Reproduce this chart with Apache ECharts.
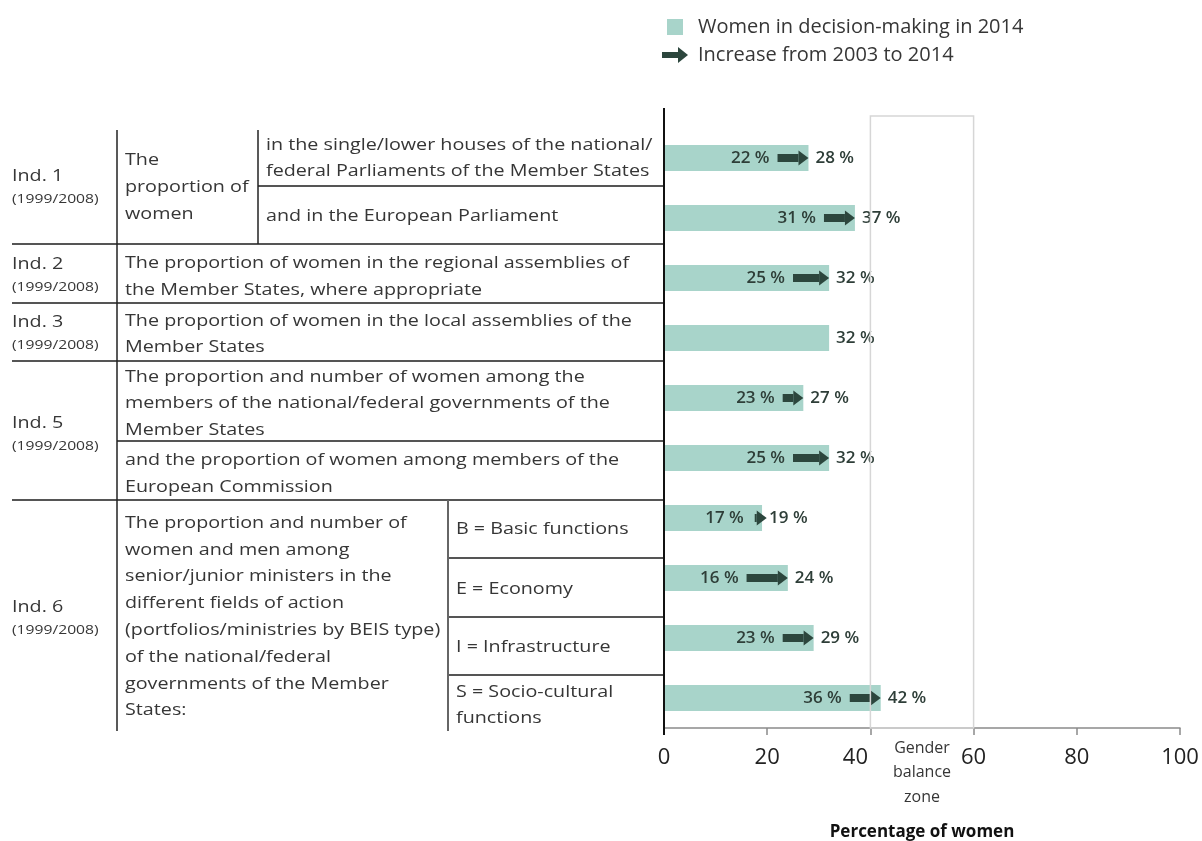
<!DOCTYPE html>
<html>
<head>
<meta charset="utf-8">
<script src="https://cdn.jsdelivr.net/npm/echarts@6/dist/echarts.min.js"></script>
<style>
html,body{margin:0;padding:0;background:#fff;}
#chart{width:1202px;height:841px;}
</style>
</head>
<body>
<div id="chart"></div>
<script>
// ---- data ----
const categories = [
  'Ind. 1 national/federal Parliaments', 'Ind. 1 European Parliament',
  'Ind. 2 regional assemblies', 'Ind. 3 local assemblies',
  'Ind. 5 national/federal governments', 'Ind. 5 European Commission',
  'Ind. 6 B', 'Ind. 6 E', 'Ind. 6 I', 'Ind. 6 S'
];
const values2003 = [22, 31, 25, null, 23, 25, 17, 16, 23, 36];
const values2014 = [28, 37, 32, 32, 27, 32, 19, 24, 29, 42];
const seriesNames = ['Women in decision-making in 2014', 'Increase from 2003 to 2014'];
const zoneRange = [40, 60];
const zoneLabel = 'Gender\nbalance\nzone';
const axisTitle = 'Percentage of women';

// table texts
const indLabels = ['Ind. 1', 'Ind. 2', 'Ind. 3', 'Ind. 5', 'Ind. 6'];
const indPeriod = '(1999/2008)';
const ind1Main = ['The', 'proportion of', 'women'];
const ind1Sub1 = ['in the single/lower houses of the national/', 'federal Parliaments of the Member States'];
const ind1Sub2 = ['and in the European Parliament'];
const ind2Text = ['The proportion of women in the regional assemblies of', 'the Member States, where appropriate'];
const ind3Text = ['The proportion of women in the local assemblies of the', 'Member States'];
const ind5Text1 = ['The proportion and number of women among the', 'members of the national/federal governments of the', 'Member States'];
const ind5Text2 = ['and the proportion of women among members of the', 'European Commission'];
const ind6Text = ['The proportion and number of', 'women and men among', 'senior/junior ministers in the', 'different fields of action', '(portfolios/ministries by BEIS type)', 'of the national/federal', 'governments of the Member', 'States:'];
const ind6Sub = [['B = Basic functions'], ['E = Economy'], ['I = Infrastructure'], ['S = Socio-cultural', 'functions']];

// ---- chart ----
const FONT = '"Open Sans", "Noto Sans", sans-serif';
const barColor = '#a8d4ca';
const arrowColor = '#2c463d';
const labelColor = '#2e3e38';
const textColor = '#363636';

const arrowData = [];
values2003.forEach((s, i) => { if (s != null) arrowData.push([i, s, values2014[i]]); });

const chart = echarts.init(document.getElementById('chart'));

function renderArrow(params, api) {
  const cat = api.value(0);
  const p0 = api.coord([api.value(1), cat]);
  const p1 = api.coord([api.value(2), cat]);
  const y = p0[1];
  let tail = p0[0], tip = p1[0];
  if (tip - tail < 12) { tail = tail + 3; tip = tail + 12; }
  const headLen = 10, shaftH = 8, headH = 15;
  const start = api.value(1);
  return {
    type: 'group',
    children: [
      { type: 'rect', shape: { x: tail, y: y - shaftH / 2, width: Math.max(0, tip - headLen - tail), height: shaftH },
        style: { fill: arrowColor } },
      { type: 'polygon', shape: { points: [[tip - headLen, y - headH / 2], [tip, y], [tip - headLen, y + headH / 2]] },
        style: { fill: arrowColor } },
      { type: 'text', style: { text: start + ' %', x: p0[0] - 8, y: y,
        align: 'right', verticalAlign: 'middle', textAlign: 'right', textVerticalAlign: 'middle',
        fill: labelColor, fontSize: 17, fontWeight: 600, fontFamily: FONT } }
    ]
  };
}

chart.setOption({
  animation: false,
  backgroundColor: '#ffffff',
  textStyle: { fontFamily: FONT },
  legend: {
    orient: 'vertical', left: 657, top: 12,
    itemWidth: 26, itemHeight: 16, itemGap: 8,
    selectedMode: false, symbolKeepAspect: true,
    textStyle: { fontSize: 20, color: textColor, fontFamily: FONT, padding: [0, 0, 0, 5] },
    data: [
      { name: seriesNames[0], icon: 'path://M0,0H16V16H0Z' },
      { name: seriesNames[1], icon: 'path://M0,5H16V0L26,8L16,16V11H0Z' }
    ]
  },
  grid: { left: 664, right: 22, top: 128, bottom: 113, containLabel: false, outerBoundsMode: 'none' },
  xAxis: {
    type: 'value', min: 0, max: 100, interval: 20,
    name: axisTitle, nameLocation: 'middle', nameGap: 96,
    nameTextStyle: { fontSize: 17, fontWeight: 'bold', color: '#111', fontFamily: FONT },
    axisLine: { show: true, lineStyle: { color: '#8a8a8a', width: 1.5 } },
    axisTick: { show: true, length: 7, lineStyle: { color: '#8a8a8a', width: 1.5 } },
    splitLine: { show: false },
    axisLabel: {
      fontSize: 22, color: '#222', margin: 19, fontFamily: FONT,
      formatter: v => v === 40 ? '{l|40}' : String(v),
      rich: { l: { fontSize: 22, color: '#222', padding: [0, 30, 0, 0], fontFamily: FONT } }
    }
  },
  yAxis: {
    type: 'category', data: categories, inverse: true,
    axisLine: { show: false }, axisTick: { show: false }, axisLabel: { show: false },
    splitLine: { show: false }
  },
  series: [
    {
      name: seriesNames[0], type: 'bar', data: values2014, barWidth: 26,
      itemStyle: { color: barColor }, z: 2,
      label: { show: true, position: 'right', distance: 7, formatter: '{c} %',
        color: labelColor, fontSize: 17, fontWeight: 600, fontFamily: FONT }
    },
    {
      name: seriesNames[1], type: 'custom', data: arrowData, z: 3,
      encode: { x: [1, 2], y: 0 }, itemStyle: { color: arrowColor },
      renderItem: renderArrow
    }
  ]
});

// ---- table & zone graphics ----
const gfx = [];
const SX = 1.16; // horizontal stretch of the original typesetting
function txt(t, x, y, size, opts) {
  opts = opts || {};
  gfx.push({ type: 'text', silent: true, z: 10, x: x, y: y, scaleX: opts.scaleX || SX, style: {
    text: t, x: 0, y: 0, fill: opts.fill || textColor,
    fontSize: size, fontFamily: FONT, fontWeight: opts.weight || 'normal',
    align: opts.align || 'left', verticalAlign: 'middle',
    textAlign: opts.align || 'left', textVerticalAlign: 'middle'
  }});
}
function lines(arr, x, y0, step, size) {
  arr.forEach((t, i) => txt(t, x, y0 + i * step, size));
}
function ln(x1, y1, x2, y2, color, w) {
  gfx.push({ type: 'line', silent: true, z: 9, shape: { x1, y1, x2, y2 }, style: { stroke: color, lineWidth: w } });
}
const BIG = 17, SMALL = 13.5, STEP = 26.8;
const axisX0 = chart.convertToPixel({ xAxisIndex: 0 }, 0);
const axisY = chart.convertToPixel({ yAxisIndex: 0 }, categories.length - 1) + 30;

// horizontal rule lines
const hColor = '#555', hW = 2;
ln(12, 244, axisX0, 244, hColor, hW);
ln(12, 303, axisX0, 303, hColor, hW);
ln(12, 361, axisX0, 361, hColor, hW);
ln(12, 500, axisX0, 500, hColor, hW);
ln(258, 186, axisX0, 186, hColor, hW);
ln(117, 441, axisX0, 441, hColor, hW);
ln(448, 558, axisX0, 558, hColor, hW);
ln(448, 617, axisX0, 617, hColor, hW);
ln(448, 675, axisX0, 675, hColor, hW);
// vertical rule lines
ln(117, 130, 117, 731, '#222', 1.5);
ln(258, 130, 258, 244, '#222', 1.5);
ln(448, 500, 448, 731, '#666', 2);
// value axis line (left edge of plot)
ln(axisX0, 108, axisX0, 735, '#111', 2);

// indicator labels
const indY = [176, 264, 322, 423, 607];
indLabels.forEach((t, i) => {
  txt(t, 12, indY[i], BIG);
  txt(indPeriod, 12, indY[i] + 23, SMALL);
});
lines(ind1Main, 125, 160, 27, BIG);
lines(ind1Sub1, 266, 145, 26.5, BIG);
lines(ind1Sub2, 266, 216, 26.5, BIG);
lines(ind2Text, 125, 263, 27, BIG);
lines(ind3Text, 125, 321, 26.5, BIG);
lines(ind5Text1, 125, 377, 26.5, BIG);
lines(ind5Text2, 125, 460, 27, BIG);
lines(ind6Text, 125, 523, STEP, BIG);
const subY = [529, 589, 647, 692];
ind6Sub.forEach((arr, i) => lines(arr, 456, subY[i], 26.5, BIG));

// gender balance zone
const zx0 = chart.convertToPixel({ xAxisIndex: 0 }, zoneRange[0]);
const zx1 = chart.convertToPixel({ xAxisIndex: 0 }, zoneRange[1]);
gfx.push({ type: 'rect', silent: true, z: 8,
  shape: { x: zx0, y: 116, width: zx1 - zx0, height: axisY - 116 },
  style: { fill: 'none', stroke: '#d6d6d6', lineWidth: 1.5 } });
gfx.push({ type: 'text', silent: true, z: 10, style: {
  text: zoneLabel, x: (zx0 + zx1) / 2, y: 736, fill: textColor,
  fontSize: 16, fontFamily: FONT, lineHeight: 24.5,
  align: 'center', verticalAlign: 'top', textAlign: 'center', textVerticalAlign: 'top' } });

chart.setOption({ graphic: { elements: gfx } });
</script>
</body>
</html>
